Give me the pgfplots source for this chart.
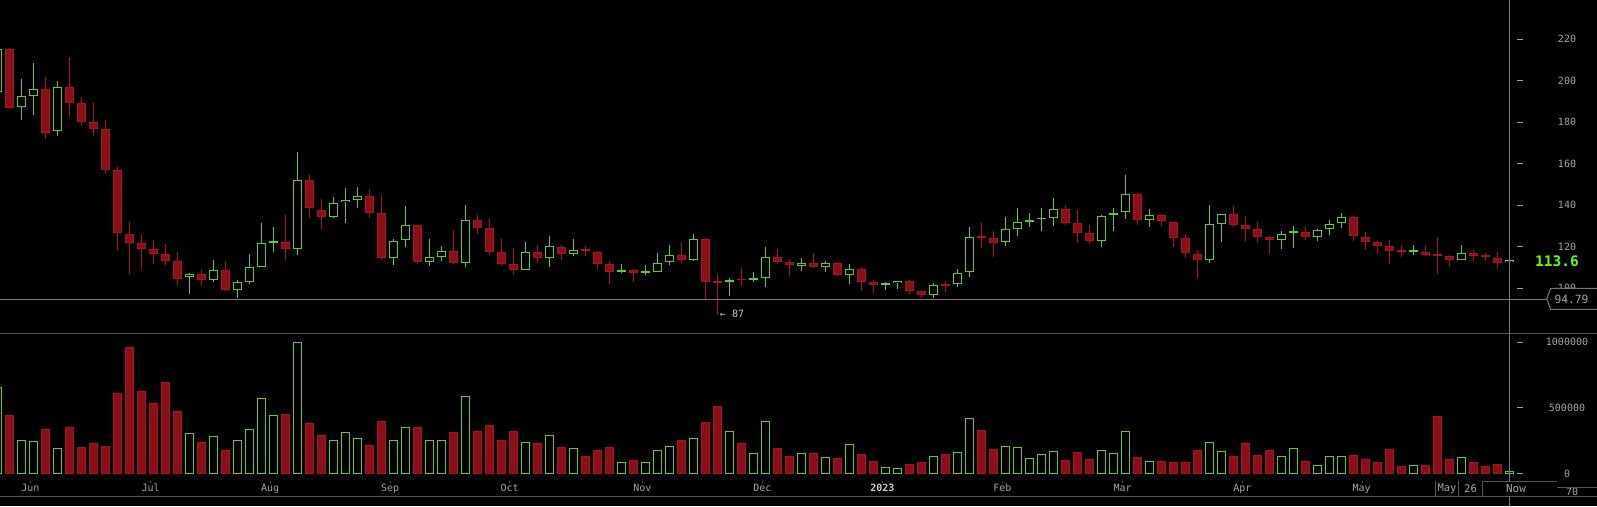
\documentclass[border=0pt]{standalone}
\usepackage{pgfplots}
\usepackage{pgfplotstable}
\pgfplotsset{compat=1.18}
\usepackage{fontspec}
\newfontfamily\mono{DejaVu Sans Mono}
\definecolor{cred}{RGB}{139,15,23}
\definecolor{credge}{RGB}{168,20,32}
\definecolor{cgreen}{RGB}{104,200,56}
\definecolor{tickgray}{RGB}{165,165,165}
\definecolor{linegray}{RGB}{120,120,120}
\definecolor{sepgray}{RGB}{85,85,85}
\definecolor{lastgreen}{RGB}{102,255,0}

\pgfplotstableread{
i o h l c v
1 215.3 215.8 186.4 187.1 443
4 195.9 201.8 172.0 175.0 337
6 196.9 211.5 182.7 189.5 352
7 189.1 192.2 178.2 180.3 200
8 180.0 189.3 173.4 176.9 231
9 176.6 181.1 155.1 157.2 208
10 156.9 158.5 118.2 126.5 610
11 126.0 132.0 107.1 122.0 960
12 121.7 125.7 109.5 119.1 626
13 118.8 123.3 111.9 116.7 534
14 116.4 121.4 111.3 113.3 694
15 113.0 117.5 101.6 104.7 474
17 106.8 108.9 101.6 104.2 238
19 108.7 113.2 98.9 99.4 177
24 122.2 135.4 113.8 119.1 451
26 152.0 154.6 134.1 138.6 382
27 137.6 143.0 128.8 134.5 291
31 144.3 147.7 134.1 136.5 215
32 136.1 145.0 113.8 114.8 398
35 130.4 130.4 111.9 112.9 352
38 117.8 128.1 111.9 112.4 314
40 132.8 135.3 126.4 129.2 322
41 128.9 133.9 116.1 117.7 367
42 117.4 123.8 110.9 111.9 253
43 111.6 119.4 106.6 109.0 322
45 117.4 120.9 112.4 114.8 231
47 119.8 120.9 113.8 116.7 200
49 118.3 120.4 115.8 117.8 132
50 117.4 117.8 109.5 111.9 177
51 111.6 113.3 102.3 108.0 200
53 108.7 109.3 103.0 107.5 101
57 115.9 122.3 112.4 113.8 253
59 123.6 124.1 94.9 103.2 390
60 103.0 106.9 87.1 102.6 512
62 104.0 109.8 101.3 103.8 231
65 114.9 118.9 111.9 112.8 193
66 112.7 114.1 105.9 111.4 132
68 112.0 117.0 109.9 110.4 155
70 112.2 112.2 106.1 106.6 117
72 109.1 110.1 98.9 103.2 147
73 103.0 104.0 97.9 101.8 94
76 103.4 104.2 97.4 98.9 71
77 98.6 98.6 95.5 96.9 86
79 101.4 103.5 98.4 101.2 147
82 124.6 131.5 119.6 124.4 329
83 124.1 127.6 115.3 122.0 185
89 138.1 140.2 130.5 131.6 101
90 131.3 137.7 122.0 126.8 162
91 126.5 130.5 121.5 123.0 109
95 145.3 145.9 130.7 133.1 124
97 135.2 135.7 130.2 132.3 94
98 131.8 131.8 120.1 124.4 86
99 124.1 126.2 114.8 116.9 86
100 116.4 118.5 105.1 113.8 177
103 135.7 139.7 129.7 130.7 132
104 130.3 134.8 123.0 128.7 231
105 128.4 131.9 122.0 124.9 139
106 124.6 125.0 116.7 123.4 177
109 127.0 130.0 123.3 124.9 94
113 134.2 134.8 122.8 125.4 139
114 124.6 127.1 118.5 122.5 109
115 122.2 122.8 116.5 120.6 86
116 120.2 123.3 111.9 118.1 185
117 117.8 120.7 115.1 117.5 56
119 117.5 120.7 115.6 116.2 63
120 116.0 124.7 107.1 115.8 436
121 115.4 116.1 110.3 113.5 109
123 117.0 119.0 112.8 115.7 86
124 115.3 116.9 113.3 115.1 56
125 114.4 117.5 109.5 112.4 71
}\redtab

\pgfplotstableread{
i o h l c v
0 194.8 216.0 194.0 215.3 656
2 187.5 200.9 181.3 192.5 253
3 192.8 208.6 183.5 195.9 246
5 175.7 199.9 173.4 196.9 193
16 105.3 107.4 97.3 106.8 306
18 104.2 113.7 103.2 108.7 284
20 99.4 104.0 95.4 102.9 253
21 103.2 116.5 102.1 110.1 337
22 110.5 131.5 110.5 121.7 572
23 122.0 129.6 117.7 122.4 443
25 119.1 165.7 116.2 152.0 998
28 134.5 144.0 134.1 141.0 253
29 141.4 148.3 131.6 142.4 314
30 142.4 148.8 138.7 144.3 268
33 114.8 123.8 111.4 122.7 253
34 123.1 139.7 120.1 130.4 352
36 112.9 123.8 110.9 114.9 253
37 115.3 120.4 113.3 117.8 253
39 112.4 140.2 110.5 132.8 588
44 109.0 122.3 109.0 117.4 238
46 114.8 125.2 110.5 120.2 291
48 116.7 123.8 115.8 118.3 193
52 108.0 111.7 107.5 108.7 86
54 107.6 111.2 106.4 107.8 86
55 108.0 117.0 108.0 112.2 177
56 112.8 120.9 111.4 115.9 208
58 113.8 126.2 113.3 123.6 268
61 103.2 104.8 96.5 104.0 322
63 104.2 107.9 103.2 105.0 155
64 105.1 119.9 100.8 114.9 398
67 110.9 114.6 108.5 112.2 155
69 110.4 113.2 108.0 112.0 124
71 106.6 111.6 102.2 109.1 223
74 101.8 103.0 99.4 102.0 48
75 102.4 103.5 99.8 103.5 41
78 96.9 102.4 95.5 101.4 132
80 101.9 109.3 100.8 107.2 162
81 107.7 129.5 105.6 124.6 420
84 122.2 134.4 120.6 128.4 208
85 128.7 138.7 125.4 131.8 200
86 132.1 136.3 129.7 132.8 117
87 133.2 138.7 127.8 133.4 147
88 133.7 143.5 130.2 138.1 170
92 123.0 135.2 120.1 134.7 177
93 135.2 138.7 127.8 136.1 155
94 136.6 154.6 133.6 145.3 322
96 133.1 138.1 129.7 135.2 94
101 113.8 140.2 112.4 130.8 238
102 131.2 135.7 122.5 135.7 170
107 123.4 127.6 118.9 126.2 132
108 126.6 130.0 119.4 126.8 193
110 124.9 128.7 122.8 127.9 63
111 128.4 132.9 125.7 131.0 132
112 131.3 136.3 129.2 134.2 132
118 117.5 120.9 116.2 117.7 63
122 113.5 120.9 113.5 116.9 124
126 112.6 113.6 112.6 113.6 15
}\greentab

\begin{document}
\begin{tikzpicture}[x=1pt,y=1pt]
\fill[black] (0,0) rectangle (1597,506);

% ---------- price panel ----------
\begin{axis}[at={(0pt,172.7pt)}, anchor=south west, scale only axis,
  width=1597pt, height=333.3pt,
  xmin=0.225, xmax=133.308, ymin=78.31, ymax=238.94,
  axis line style={draw=none}, tick style={draw=none},
  xtick=\empty,
  ytick={100,120,140,160,180,200,220},
  yticklabels={100,120,140,160,180,200,220},
  yticklabel pos=right,
  yticklabel style={anchor=center, xshift=-30pt, text=tickgray, font=\mono\fontsize{10}{12}\selectfont},
  clip mode=individual]
% wicks
\addplot[draw=none, mark=none, forget plot, error bars/.cd, y dir=plus, y explicit, error mark=none,
  error bar style={draw=credge, line width=1pt}]
  table[x=i, y=l, y error plus expr=\thisrow{h}-\thisrow{l}] \redtab;
\addplot[draw=none, mark=none, forget plot, error bars/.cd, y dir=plus, y explicit, error mark=none,
  error bar style={draw=cgreen, line width=1pt}]
  table[x=i, y=l, y error plus expr=\thisrow{h}-\thisrow{l}] \greentab;
% red bodies
\addplot[draw=none, mark=none, forget plot, error bars/.cd, y dir=plus, y explicit, error mark=none,
  error bar style={draw=credge, line width=8.7pt}]
  table[x=i, y=c, y error plus expr={max(\thisrow{o}-\thisrow{c},0.9)}] \redtab;
\addplot[draw=none, mark=none, forget plot, error bars/.cd, y dir=plus, y explicit, error mark=none,
  error bar style={draw=cred, line width=6.7pt}]
  table[x=i, y expr=\thisrow{c}+0.48, y error plus expr={max(\thisrow{o}-\thisrow{c}-0.96,0)}] \redtab;
% green bodies (hollow)
\addplot[draw=none, mark=none, forget plot, error bars/.cd, y dir=plus, y explicit, error mark=none,
  error bar style={draw=cgreen, line width=8.7pt}]
  table[x=i, y=o, y error plus expr={max(\thisrow{c}-\thisrow{o},0.9)}] \greentab;
\addplot[draw=none, mark=none, forget plot, error bars/.cd, y dir=plus, y explicit, error mark=none,
  error bar style={draw=black, line width=6.7pt}]
  table[x=i, y expr=\thisrow{o}+0.48, y error plus expr={max(\thisrow{c}-\thisrow{o}-0.96,0)}] \greentab;
\pgfplotsinvokeforeach{100,120,140,160,180,200,220}{
  \draw[tickgray, line width=0.8pt] (axis cs:126.64,#1) -- (axis cs:127.14,#1);
}
\end{axis}

% ---------- volume panel ----------
\begin{axis}[at={(0pt,0pt)}, anchor=south west, scale only axis,
  width=1597pt, height=172.7pt,
  xmin=0.225, xmax=133.308, ymin=-245.7, ymax=1066.6,
  axis line style={draw=none}, tick style={draw=none},
  xtick={2.75,12.78,22.73,32.73,42.7,53.75,63.75,73.75,83.75,93.78,103.75,113.7},
  xticklabels={Jun,Jul,Aug,Sep,Oct,Nov,Dec,{\bfseries\color{white!80!black}2023},Feb,Mar,Apr,May},
  xticklabel style={anchor=base, yshift=14.2pt, text=tickgray, font=\mono\fontsize{10}{12}\selectfont},
  ytick={0,500,1000},
  yticklabels={0,500000,1000000},
  yticklabel pos=right,
  yticklabel style={anchor=center, xshift=-30pt, text=tickgray, font=\mono\fontsize{10}{12}\selectfont},
  clip mode=individual]
\addplot[ybar, bar width=7.7pt, bar shift=0pt, fill=cred, draw=credge, line width=1pt] table[x=i, y=v] \redtab;
\addplot[ybar, bar width=7.7pt, bar shift=0pt, fill=black, draw=cgreen, line width=1pt] table[x=i, y=v] \greentab;
\pgfplotsinvokeforeach{0,500,1000}{
  \draw[tickgray, line width=0.8pt] (axis cs:126.64,#1) -- (axis cs:127.14,#1);
}
\end{axis}

% ---------- furniture ----------
\draw[sepgray, line width=1pt] (0,172.7) -- (1597,172.7);
\draw[sepgray, line width=1pt] (0,9.3) -- (1597,9.3);
\draw[linegray, line width=1pt] (0,206.7) -- (1547,206.7);
\draw[linegray, line width=1pt] (1509.3,0) -- (1509.3,506);
% month ticks
\foreach \xx in {30.3,150.7,270.0,390.0,509.7,642.3,762.3,882.3,1002.3,1122.7,1242.3,1362.0}
  \draw[sepgray, line width=0.8pt] (\xx,25.2) -- (\xx,23.0);
% last price box
\draw[linegray, line width=1pt, fill=black] (1600,217.7) -- (1550.7,217.7) -- (1546.7,207) -- (1550.7,196.7) -- (1600,196.7);
\node[text=tickgray, font=\mono\fontsize{11.3}{13}\selectfont] at (1571.5,207) {94.79};
\node[text=lastgreen, font=\mono\bfseries\fontsize{14.5}{16}\selectfont] at (1557,245) {113.6};
\node[text=white!80!black, font=\mono\fontsize{10}{12}\selectfont] at (732,192) {← 87};
% bottom date boxes
\fill[black] (1482.5,9.8) rectangle (1557,24.2);
\draw[sepgray, line width=1pt] (1482,24.3) -- (1557,24.3);
\node[text=tickgray, font=\mono\fontsize{10}{12}\selectfont] at (1572,13.8) {70};
\fill[black] (1557,18.3) rectangle (1597,24.5);
\draw[sepgray, line width=1pt] (1557,18.3) -- (1597,18.3);
\foreach \xx in {1435.3,1458.7,1482.0}
  \draw[sepgray, line width=1pt] (\xx,25.3) -- (\xx,9.3);
\node[text=tickgray, font=\mono\fontsize{10.5}{12}\selectfont] at (1447,17.5) {May};
\node[text=tickgray, font=\mono\fontsize{10.5}{12}\selectfont] at (1470.5,17.5) {26};
\node[text=tickgray, font=\mono\fontsize{11}{12}\selectfont] at (1516,17.7) {Now};
\pgfresetboundingbox
\useasboundingbox (0,0) rectangle (1597,506);
\end{tikzpicture}
\end{document}
